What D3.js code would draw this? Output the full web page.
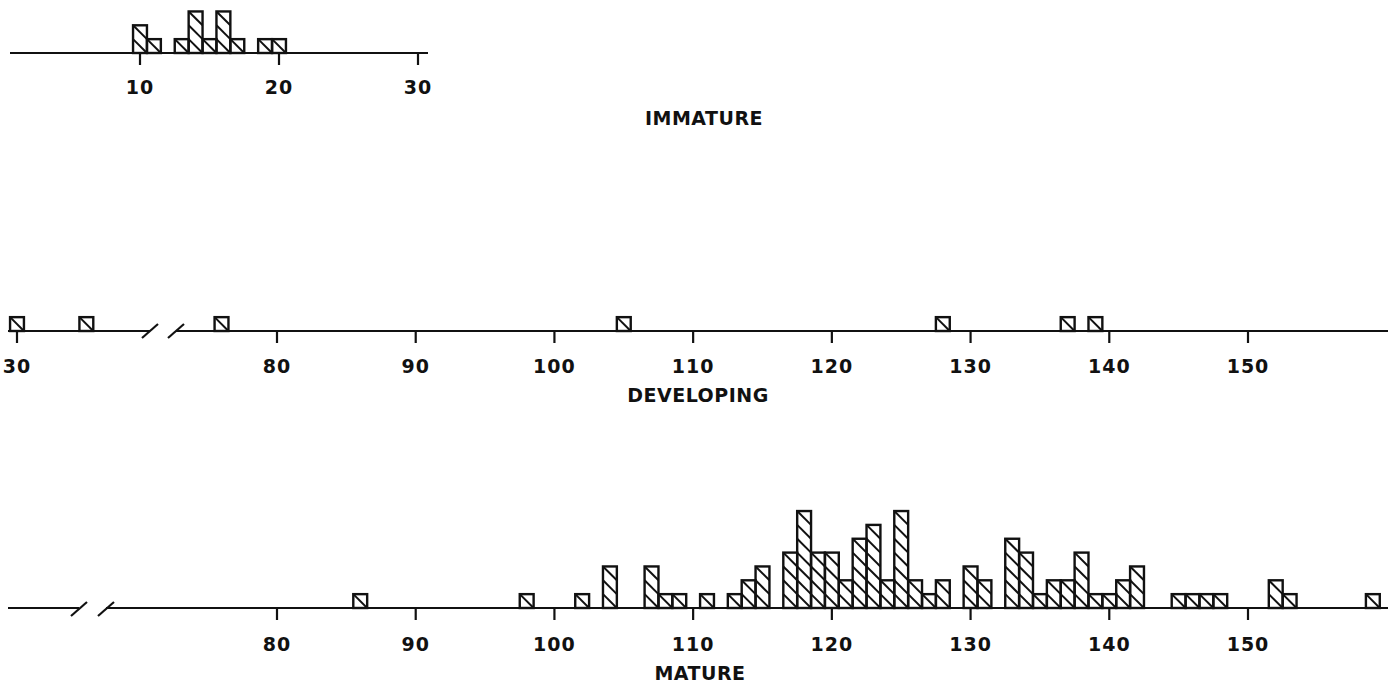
<!DOCTYPE html>
<html>
<head>
<meta charset="utf-8">
<script src="https://cdn.jsdelivr.net/npm/d3@7/dist/d3.min.js"></script>
<style>
html,body{margin:0;padding:0;background:#fff;}
svg{display:block;}
text{font-family:"DejaVu Sans",sans-serif;font-weight:bold;fill:#111;}
</style>
</head>
<body>
<svg id="chart" width="1388" height="686"></svg>
<script>
// ---- data ----
const immatureValues = [10, 11, 13, 14, 15, 16, 17, 19, 20];
const immatureCounts = [2, 1, 1, 3, 1, 3, 1, 1, 1];

const developingValues = [30, 35, 76, 105, 128, 137, 139];
const developingCounts = [1, 1, 1, 1, 1, 1, 1];

const matureValues = [86, 98, 102, 104, 107, 108, 109, 111, 113, 114, 115, 117, 118, 119, 120, 121, 122, 123, 124, 125, 126, 127, 128, 130, 131, 133, 134, 135, 136, 137, 138, 139, 140, 141, 142, 145, 146, 147, 148, 152, 153, 159];
const matureCounts  = [1, 1, 1, 3, 3, 1, 1, 1, 1, 2, 3, 4, 7, 4, 4, 2, 5, 6, 2, 7, 2, 1, 2, 3, 2, 5, 4, 1, 2, 2, 4, 1, 1, 2, 3, 1, 1, 1, 1, 2, 1, 1];

const immatureTicks = [10, 20, 30];
const developingLeftTicks = [30];
const mainTicks = [80, 90, 100, 110, 120, 130, 140, 150];

const titles = ["IMMATURE", "DEVELOPING", "MATURE"];

// ---- layout ----
const W = 1388;
const svg = d3.select("#chart");
const unitH = 13.85;
const xImm = d3.scaleLinear().domain([10, 30]).range([140, 418]);
const xMain = d3.scaleLinear().domain([80, 150]).range([277, 1248]);
const xDevLeft = d3.scaleLinear().domain([30, 40]).range([17, 155.7]);
const yCount = d3.scaleLinear().domain([0, 1]).range([0, unitH]);

function drawBars(g, scale, values, counts, base) {
  values.forEach((v, i) => {
    const x0 = scale(v - 0.5), x1 = scale(v + 0.5);
    const n = counts[i];
    for (let k = 0; k < n; k++) {
      g.append("line")
        .attr("x1", x0).attr("y1", base - yCount(k + 1))
        .attr("x2", x1).attr("y2", base - yCount(k))
        .attr("stroke", "#111").attr("stroke-width", 2);
    }
    g.append("rect")
      .attr("x", x0).attr("y", base - yCount(n))
      .attr("width", x1 - x0).attr("height", yCount(n))
      .attr("fill", "none").attr("stroke", "#111").attr("stroke-width", 2.4);
  });
}

function drawLine(g, xa, xb, y) {
  g.append("line").attr("x1", xa).attr("x2", xb).attr("y1", y).attr("y2", y)
    .attr("stroke", "#111").attr("stroke-width", 2.2);
}
function drawSlash(g, xc, y) {
  g.append("line").attr("x1", xc - 8).attr("y1", y + 7).attr("x2", xc + 8).attr("y2", y - 7)
    .attr("stroke", "#111").attr("stroke-width", 2.2);
}
function drawTicks(g, scale, ticks, base, labelY) {
  ticks.forEach(t => {
    g.append("line").attr("x1", scale(t)).attr("x2", scale(t))
      .attr("y1", base).attr("y2", base + 12)
      .attr("stroke", "#111").attr("stroke-width", 2.2);
    g.append("text").attr("x", scale(t)).attr("y", labelY)
      .attr("text-anchor", "middle").attr("font-size", 19)
      .attr("letter-spacing", 1).text(t);
  });
}
function drawTitle(g, text, x, y) {
  g.append("text").attr("x", x).attr("y", y).attr("text-anchor", "middle")
    .attr("font-size", 19).attr("letter-spacing", 0.5).text(text);
}

// ---- immature ----
const gI = svg.append("g");
const baseI = 53;
drawLine(gI, 10, 428, baseI);
drawTicks(gI, xImm, immatureTicks, baseI, 94);
drawBars(gI, xImm, immatureValues, immatureCounts, baseI);
drawTitle(gI, titles[0], 704, 125);

// ---- developing ----
const gD = svg.append("g");
const baseD = 331;
drawLine(gD, 8, 150, baseD);
drawSlash(gD, 150, baseD);
drawSlash(gD, 176, baseD);
drawLine(gD, 176, W, baseD);
drawTicks(gD, xDevLeft, developingLeftTicks, baseD, 373);
drawTicks(gD, xMain, mainTicks, baseD, 373);
developingValues.forEach((v, i) => {
  const sc = v < 60 ? xDevLeft : xMain;
  drawBars(gD, sc, [v], [developingCounts[i]], baseD);
});
drawTitle(gD, titles[1], 698, 402);

// ---- mature ----
const gM = svg.append("g");
const baseM = 608;
drawLine(gM, 8, 79, baseM);
drawSlash(gM, 79, baseM + 1);
drawSlash(gM, 106, baseM + 1);
drawLine(gM, 106, W, baseM);
drawTicks(gM, xMain, mainTicks, baseM, 651);
drawBars(gM, xMain, matureValues, matureCounts, baseM);
drawTitle(gM, titles[2], 700, 680);
</script>
</body>
</html>
